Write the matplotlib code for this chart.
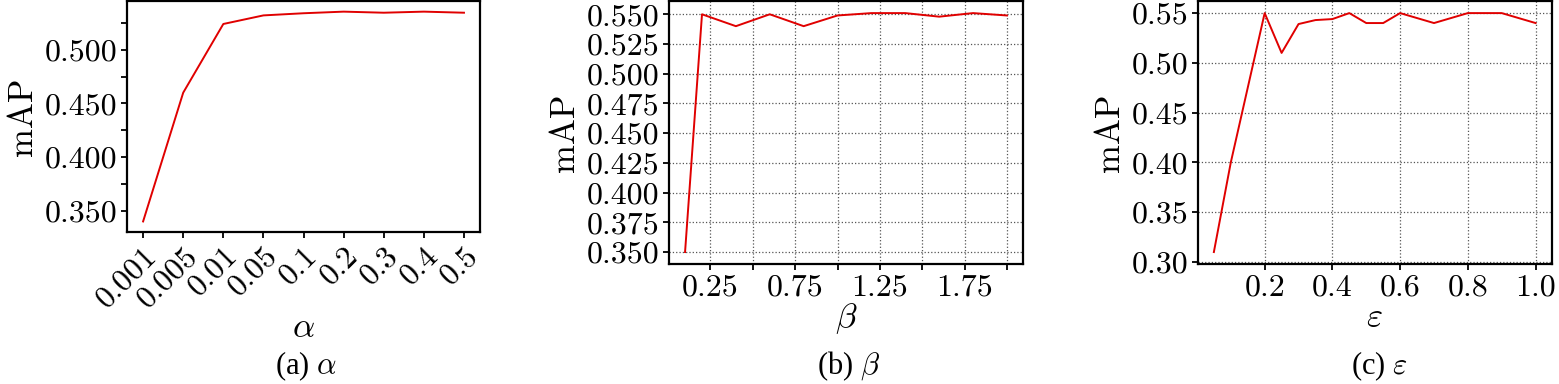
import matplotlib
matplotlib.use("Agg")
import matplotlib.pyplot as plt
from matplotlib.ticker import FixedLocator, FuncFormatter

# panel (a): alpha, categorical x
alpha_labels = ["0.001", "0.005", "0.01", "0.05", "0.1", "0.2", "0.3", "0.4", "0.5"]
alpha_map = [0.340, 0.460, 0.524, 0.532, 0.534, 0.5355, 0.5345, 0.5355, 0.5345]

# panel (b): beta
beta_x = [0.1, 0.2, 0.4, 0.6, 0.8, 1.0, 1.2, 1.4, 1.6, 1.8, 2.0]
beta_map = [0.350, 0.550, 0.540, 0.550, 0.540, 0.549, 0.551, 0.551, 0.548, 0.551, 0.549]

# panel (c): epsilon
eps_x = [0.05, 0.1, 0.2, 0.25, 0.3, 0.35, 0.4, 0.45, 0.5, 0.55, 0.6, 0.7, 0.8, 0.9, 1.0]
eps_map = [0.310, 0.400, 0.550, 0.510, 0.539, 0.543, 0.544, 0.550, 0.540, 0.540,
           0.550, 0.540, 0.550, 0.550, 0.540]

plt.rcParams['font.family'] = ['cmr10', 'DejaVu Serif']
plt.rcParams['mathtext.fontset'] = 'cm'
plt.rcParams['axes.formatter.use_mathtext'] = True

red = '#e00000'
tick_fs = 23
lab_fs = 25
cap_fs = 22

fig = plt.figure(figsize=(15.59, 3.84), dpi=100)
axA = fig.add_axes([0.0815, 0.396, 0.2264, 0.601])
axB = fig.add_axes([0.4291, 0.3125, 0.2271, 0.6845])
axC = fig.add_axes([0.7683, 0.3125, 0.2270, 0.6845])

for ax in (axA, axB, axC):
    for s in ax.spines.values():
        s.set_linewidth(1.6)
    ax.tick_params(axis='both', direction='out', length=4, width=1.3,
                   labelsize=tick_fs, pad=3)

def every_other(fmt, keep):
    def f(v, pos):
        return fmt % v if keep(v) else ""
    return FuncFormatter(f)

# (a)
xa = list(range(len(alpha_labels)))
axA.plot(xa, alpha_map, color=red, lw=1.4)
axA.set_xticks(xa)
axA.set_xticklabels(alpha_labels, rotation=45, ha='right', rotation_mode='anchor')
axA.yaxis.set_major_locator(FixedLocator([0.350, 0.375, 0.400, 0.425, 0.450, 0.475, 0.500, 0.525]))
axA.yaxis.set_major_formatter(every_other('%.3f', lambda v: round(v * 1000) % 50 == 0))
axA.set_ylabel('mAP', fontsize=lab_fs)
axA.set_xlabel(r'$\alpha$', fontsize=lab_fs, labelpad=0)

# (b)
axB.plot(beta_x, beta_map, color=red, lw=1.4)
axB.xaxis.set_major_locator(FixedLocator([0.25, 0.5, 0.75, 1.0, 1.25, 1.5, 1.75, 2.0]))
axB.xaxis.set_major_formatter(every_other('%.2f', lambda v: round(v * 100) % 50 == 25))
axB.yaxis.set_major_locator(FixedLocator([0.350, 0.375, 0.400, 0.425, 0.450, 0.475, 0.500, 0.525, 0.550]))
axB.yaxis.set_major_formatter(FuncFormatter(lambda v, p: '%.3f' % v))
axB.grid(True, linestyle=':', color='#555555', linewidth=0.9)
axB.set_ylabel('mAP', fontsize=lab_fs)
axB.set_xlabel(r'$\beta$', fontsize=lab_fs, labelpad=0)

# (c)
axC.plot(eps_x, eps_map, color=red, lw=1.4)
axC.xaxis.set_major_locator(FixedLocator([0.2, 0.4, 0.6, 0.8, 1.0]))
axC.xaxis.set_major_formatter(FuncFormatter(lambda v, p: '%.1f' % v))
axC.yaxis.set_major_locator(FixedLocator([0.30, 0.35, 0.40, 0.45, 0.50, 0.55]))
axC.yaxis.set_major_formatter(FuncFormatter(lambda v, p: '%.2f' % v))
axC.grid(True, linestyle=':', color='#555555', linewidth=0.9)
axC.set_ylabel('mAP', fontsize=lab_fs)
axC.set_xlabel(r'$\varepsilon$', fontsize=lab_fs, labelpad=0)

# sub captions
fig.text(0.196, 0.047, r'(a) $\alpha$', fontsize=cap_fs, ha='center', va='center',
         family=['Liberation Serif'])
fig.text(0.5445, 0.047, r'(b) $\beta$', fontsize=cap_fs, ha='center', va='center',
         family=['Liberation Serif'])
fig.text(0.885, 0.047, r'(c) $\varepsilon$', fontsize=cap_fs, ha='center', va='center',
         family=['Liberation Serif'])

fig.savefig('out.png', dpi=100)
